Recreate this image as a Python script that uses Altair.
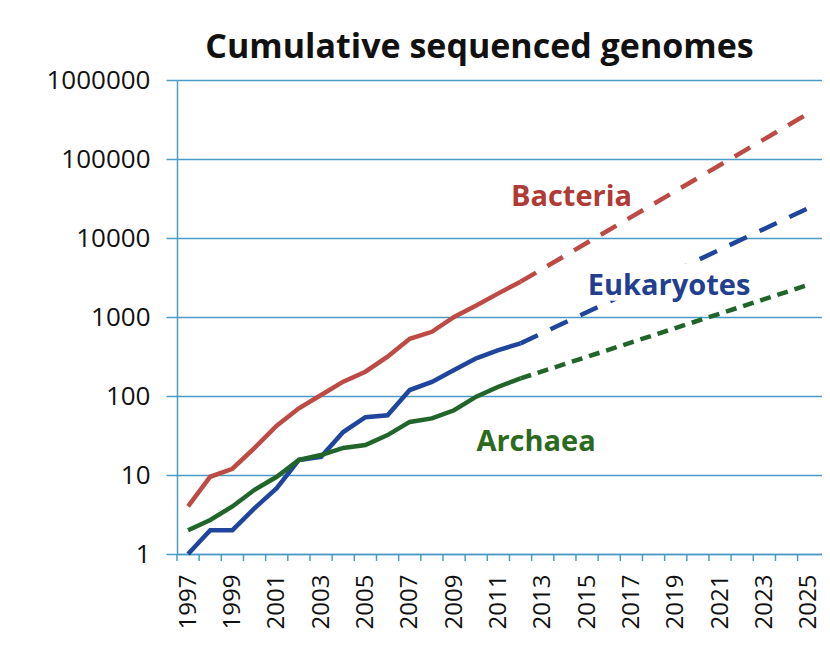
import altair as alt
import pandas as pd

# ---- data ----
series = ["Bacteria", "Eukaryotes", "Archaea"]
years = list(range(1997, 2013))
bacteria = [4, 9.5, 12, 22, 42, 70, 103, 152, 203, 315, 530, 650, 1000, 1400, 1990, 2800]
eukaryotes = [1, 2, 2, 3.8, 6.8, 15.5, 17, 35, 54, 57, 119, 151, 214, 300, 380, 464]
archaea = [2, 2.7, 4, 6.5, 9.5, 15.5, 17.9, 22, 24, 32, 47, 52, 66, 98, 131, 167]

proj_years = [2012, 2025]
bacteria_proj = [2800, 380000]
eukaryotes_proj = [464, 24000]
archaea_proj = [167, 2560]

all_years = list(range(1997, 2026))
label_years = list(range(1997, 2026, 2))
y_ticks = [1, 10, 100, 1000, 10000, 100000, 1000000]

# ---- styles ----
RED, BLUE, GREEN = "#bd4a44", "#1f469c", "#21652a"
RED_T, BLUE_T, GREEN_T = "#b03a35", "#22408f", "#2b6a1f"
TEAL = "#4a9cc4"
FONT = "Open Sans"

solid = pd.DataFrame({
    "year": years * 3,
    "value": bacteria + eukaryotes + archaea,
    "series": [s for s in series for _ in years],
})
proj = pd.DataFrame({
    "year": proj_years * 3,
    "value": bacteria_proj + eukaryotes_proj + archaea_proj,
    "series": [s for s in series for _ in proj_years],
})
bounds = pd.DataFrame({"b": [y - 0.5 for y in all_years]})

xscale = alt.Scale(domain=[1996.5, 2025.6], nice=False, zero=False)
yscale = alt.Scale(type="log", domain=[1, 1000000], nice=False)
cscale = alt.Scale(domain=series, range=[RED, BLUE, GREEN])

x_enc = alt.X("year:Q", scale=xscale, title=None,
              axis=alt.Axis(values=label_years, format="d", labelAngle=270,
                            labelAlign="right", labelBaseline="middle",
                            labelFontSize=24, labelFont=FONT, labelColor="#111",
                            labelPadding=20, labelOverlap=False, labelBound=False,
                            labelFlush=False,
                            ticks=False, grid=False,
                            domainColor=TEAL, domainWidth=1.5))
y_enc = alt.Y("value:Q", scale=yscale, title=None,
              axis=alt.Axis(values=y_ticks, format="d", labelFontSize=26,
                            labelFont=FONT, labelColor="#111", labelPadding=16,
                            tickSize=11, tickColor=TEAL, tickWidth=1.5,
                            grid=True, gridColor=TEAL, gridWidth=1.6,
                            domainColor=TEAL, domainWidth=1.5))

solid_lines = alt.Chart(solid).mark_line(strokeWidth=4.5).encode(
    x=x_enc, y=y_enc,
    color=alt.Color("series:N", scale=cscale, legend=None),
    detail="series:N",
)

proj_lines = alt.Chart(proj).mark_line(strokeWidth=4.5).encode(
    x="year:Q", y="value:Q",
    color=alt.Color("series:N", scale=cscale, legend=None),
    strokeDash=alt.StrokeDash("series:N", legend=None,
                              scale=alt.Scale(domain=series,
                                              range=[[18, 13], [19, 14], [11, 7]])),
)

xticks = alt.Chart(bounds).mark_rule(color=TEAL, strokeWidth=1.5).encode(
    x="b:Q", y=alt.value(474), y2=alt.value(481)
)

# white text box behind the "Eukaryotes" label (hides the dashed line, as in the reference)
euk_box = alt.Chart().mark_rect(color="white").encode(
    x=alt.datum(2015.3), x2=alt.datum(2021.2),
    y=alt.datum(4800), y2=alt.datum(1600),
)

def label(text, xv, yv, col):
    return alt.Chart().mark_text(text=text, font=FONT, fontSize=29, fontWeight="bold",
                                 color=col, align="center", baseline="middle").encode(
        x=alt.datum(xv), y=alt.datum(yv))

labels = (label("Bacteria", 2014.3, 33000, RED_T)
          + label("Eukaryotes", 2018.7, 2500, BLUE_T)
          + label("Archaea", 2012.7, 26, GREEN_T))

chart = alt.layer(xticks, solid_lines, proj_lines, euk_box, labels).properties(
    width=645, height=474,
    title=alt.TitleParams("Cumulative sequenced genomes", font=FONT, fontSize=34,
                          fontWeight="bold", color="#111", anchor="middle",
                          dx=-20, offset=2),
    autosize=alt.AutoSizeParams(type="none"),
    padding={"left": 169, "top": 72, "right": 0, "bottom": 81},
).configure_view(stroke=None).configure(background="white")

chart.save("out.html", embed_options={"renderer": "svg", "actions": False})
